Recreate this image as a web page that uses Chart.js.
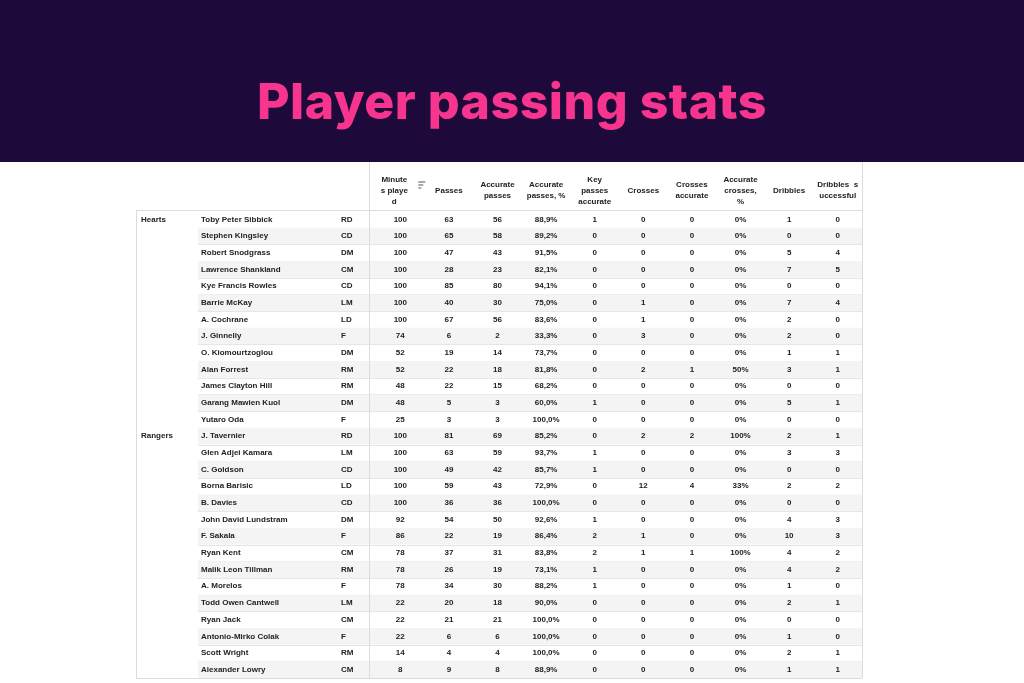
<!DOCTYPE html>
<html><head><meta charset="utf-8">
<script src="https://cdn.jsdelivr.net/npm/chart.js@4"></script>
<style>
html,body{margin:0;padding:0;background:#fff;width:1024px;height:683px;overflow:hidden}
#hdr{height:162px;background:#1d0a3b;display:flex;align-items:center;justify-content:center}
#hdr h1{margin:0;margin-top:40px;color:#f7358f;font-family:Inter,"Open Sans",sans-serif;font-weight:800;font-size:50px;letter-spacing:0.5px}
#wrap{position:absolute;top:162px;left:0;width:1024px;height:521px}
</style></head><body>
<div id="hdr"><h1>Player passing stats</h1></div>
<div id="wrap"><canvas id="c" width="1024" height="521"></canvas></div>
<script>
const columns = [["Minute","s playe","d"],["Passes"],["Accurate","passes"],["Accurate","passes, %"],["Key","passes","accurate"],["Crosses"],["Crosses","accurate"],["Accurate","crosses,","%"],["Dribbles"],["Dribbles  s","uccessful"]];
const teams = ["Hearts","","","","","","","","","","","","","Rangers","","","","","","","","","","","","","",""];
const players = ["Toby Peter Sibbick","Stephen Kingsley","Robert Snodgrass","Lawrence Shankland","Kye Francis Rowles","Barrie McKay","A. Cochrane","J. Ginnelly","O. Kiomourtzoglou","Alan Forrest","James Clayton Hill","Garang Mawien Kuol","Yutaro Oda","J. Tavernier","Glen Adjei Kamara","C. Goldson","Borna Barisic","B. Davies","John David Lundstram","F. Sakala","Ryan Kent","Malik Leon Tillman","A. Morelos","Todd Owen Cantwell","Ryan Jack","Antonio-Mirko Colak","Scott Wright","Alexander Lowry"];
const positions = ["RD","CD","DM","CM","CD","LM","LD","F","DM","RM","RM","DM","F","RD","LM","CD","LD","CD","DM","F","CM","RM","F","LM","CM","F","RM","CM"];
const minutes = [100,100,100,100,100,100,100,74,52,52,48,48,25,100,100,100,100,100,92,86,78,78,78,22,22,22,14,8];
const passes = [63,65,47,28,85,40,67,6,19,22,22,5,3,81,63,49,59,36,54,22,37,26,34,20,21,6,4,9];
const accPasses = [56,58,43,23,80,30,56,2,14,18,15,3,3,69,59,42,43,36,50,19,31,19,30,18,21,6,4,8];
const accPassesPct = ["88,9%","89,2%","91,5%","82,1%","94,1%","75,0%","83,6%","33,3%","73,7%","81,8%","68,2%","60,0%","100,0%","85,2%","93,7%","85,7%","72,9%","100,0%","92,6%","86,4%","83,8%","73,1%","88,2%","90,0%","100,0%","100,0%","100,0%","88,9%"];
const keyPasses = [1,0,0,0,0,0,0,0,0,0,0,1,0,0,1,1,0,0,1,2,2,1,1,0,0,0,0,0];
const crosses = [0,0,0,0,0,1,1,3,0,2,0,0,0,2,0,0,12,0,0,1,1,0,0,0,0,0,0,0];
const crossesAcc = [0,0,0,0,0,0,0,0,0,1,0,0,0,2,0,0,4,0,0,0,1,0,0,0,0,0,0,0];
const crossesAccPct = ["0%","0%","0%","0%","0%","0%","0%","0%","0%","50%","0%","0%","0%","100%","0%","0%","33%","0%","0%","0%","100%","0%","0%","0%","0%","0%","0%","0%"];
const dribbles = [1,0,5,7,0,7,2,2,1,3,0,5,0,2,3,0,2,0,4,10,4,4,1,2,0,1,2,1];
const dribblesSucc = [0,0,4,5,0,4,0,0,1,1,0,1,0,1,3,0,2,0,3,3,2,2,0,1,0,0,1,1];

const statCols = [minutes,passes,accPasses,accPassesPct,keyPasses,crosses,crossesAcc,crossesAccPct,dribbles,dribblesSucc];
const colKeys = columns.map((c,i)=>"c"+i);
const cells = [];
statCols.forEach((arr,ci)=>arr.forEach((v,ri)=>cells.push({x:colKeys[ci],y:players[ri],v:String(v)})));

const tablePlugin = {
  id:'table',
  beforeDatasetsDraw(chart){
    const {ctx,scales:{x,y},chartArea:a} = chart;
    const left=136, right=862;
    const bh = y.getPixelForValue(1)-y.getPixelForValue(0);
    ctx.save();
    players.forEach((p,i)=>{
      const cy=y.getPixelForValue(i);
      if(i%2===1){ctx.fillStyle='#f4f4f4';ctx.fillRect(198,cy-bh/2,right-198,bh);}
      ctx.strokeStyle='#e6e6e6';ctx.lineWidth=1;
      ctx.beginPath();ctx.moveTo(198,Math.round(cy+bh/2)+0.5);ctx.lineTo(right,Math.round(cy+bh/2)+0.5);ctx.stroke();
    });
    ctx.strokeStyle='#dcdcdc';
    ctx.beginPath();ctx.moveTo(left,a.top-0.5);ctx.lineTo(right,a.top-0.5);ctx.stroke();
    ctx.beginPath();ctx.moveTo(369.5,0);ctx.lineTo(369.5,a.bottom);ctx.stroke();
    ctx.beginPath();ctx.moveTo(right+0.5,0);ctx.lineTo(right+0.5,a.bottom);ctx.stroke();
    ctx.beginPath();ctx.moveTo(left+0.5,a.top);ctx.lineTo(left+0.5,a.bottom);ctx.stroke();
    ctx.beginPath();ctx.moveTo(left,a.bottom+0.5);ctx.lineTo(right,a.bottom+0.5);ctx.stroke();
    // header
    ctx.fillStyle='#222';ctx.font='bold 8px "Liberation Sans", Arial, sans-serif';
    ctx.textAlign='center';ctx.textBaseline='middle';
    columns.forEach((lines,ci)=>{
      const cx=x.getPixelForValue(ci) + (ci===0?-6:0);
      const mid=(a.top)/2+4;
      lines.forEach((t,li)=>ctx.fillText(t,cx,mid+(li-(lines.length-1)/2)*11));
    });
    // sort icon
    const sx=x.getPixelForValue(0)+18, sy=a.top/2-2;
    ctx.fillStyle='#555';
    ctx.fillRect(sx,sy-3,7,1);ctx.fillRect(sx,sy,5,1);ctx.fillRect(sx,sy+3,3,1);
    // left columns
    ctx.textAlign='left';ctx.fillStyle='#222';
    players.forEach((p,i)=>{
      const cy=y.getPixelForValue(i);
      if(teams[i]) ctx.fillText(teams[i],141,cy);
      ctx.fillText(p,201,cy);
      ctx.fillText(positions[i],341,cy);
    });
    ctx.restore();
  },
  afterDatasetsDraw(chart){
    const {ctx,scales:{x,y}} = chart;
    ctx.save();
    ctx.fillStyle='#222';ctx.font='bold 8px "Liberation Sans", Arial, sans-serif';
    ctx.textAlign='center';ctx.textBaseline='middle';
    chart.data.datasets[0].data.forEach(d=>{
      ctx.fillText(d.v,x.getPixelForValue(colKeys.indexOf(d.x)),y.getPixelForValue(players.indexOf(d.y)));
    });
    ctx.restore();
  }
};

new Chart(document.getElementById('c'),{
  type:'scatter',
  data:{datasets:[{data:cells,pointRadius:0,pointHoverRadius:0}]},
  options:{
    responsive:false,animation:false,events:[],
    layout:{padding:{left:376,right:162,top:49,bottom:5}},
    plugins:{legend:{display:false},tooltip:{enabled:false}},
    scales:{
      x:{type:'category',labels:colKeys,offset:true,display:false},
      y:{type:'category',labels:players,offset:true,display:false}
    }
  },
  plugins:[tablePlugin]
});
</script>
</body></html>
